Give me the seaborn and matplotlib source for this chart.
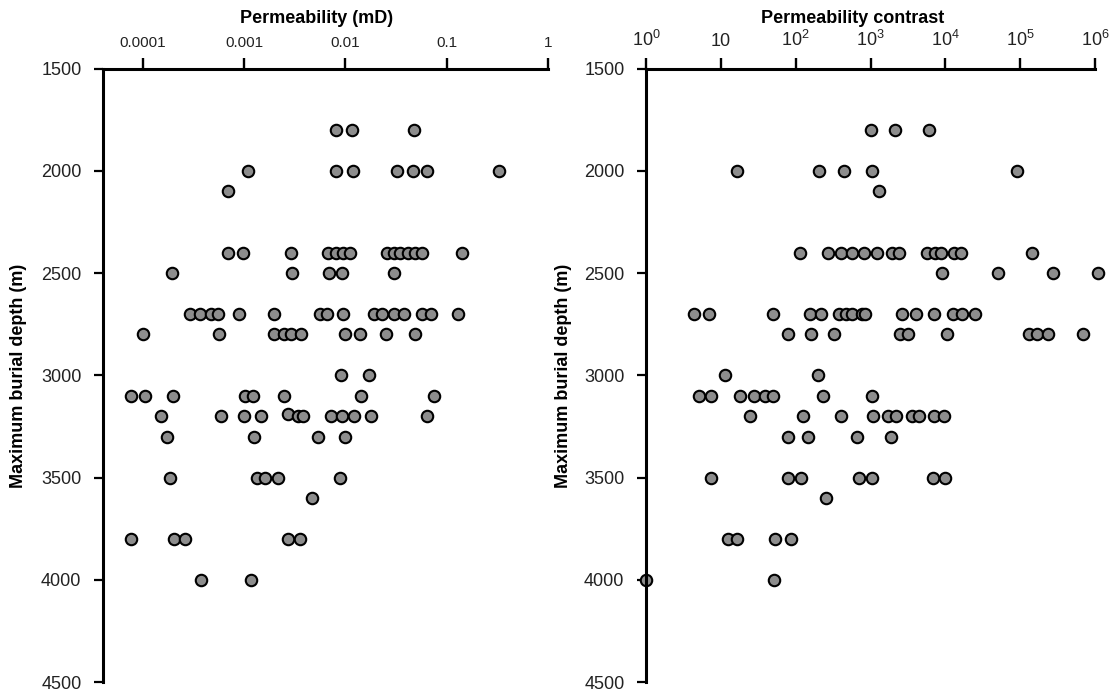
import matplotlib
matplotlib.use("Agg")
import matplotlib.pyplot as plt
import numpy as np
import pandas as pd
import seaborn as sns
from matplotlib.ticker import FixedLocator, FixedFormatter, NullLocator

# ---------------------------------------------------------------------------
# Data: permeability (mD) against maximum burial depth (m)
# ---------------------------------------------------------------------------
perm_depth_m = [
    1800, 1800, 1800,
    2000, 2000, 2000, 2000, 2000, 2000, 2000,
    2100,
    2400, 2400, 2400, 2400, 2400, 2400, 2400, 2400, 2400, 2400, 2400, 2400, 2400, 2400,
    2500, 2500, 2500, 2500, 2500,
    2700, 2700, 2700, 2700, 2700, 2700, 2700, 2700, 2700, 2700, 2700, 2700, 2700, 2700, 2700, 2700,
    2800, 2800, 2800, 2800, 2800, 2800, 2800, 2800, 2800, 2800,
    3000, 3000,
    3100, 3100, 3100, 3100, 3100, 3100, 3100, 3100,
    3200, 3200, 3200, 3200, 3190, 3200, 3200, 3200, 3200, 3200, 3200, 3200,
    3300, 3300, 3300, 3300,
    3500, 3500, 3500, 3500, 3500,
    3600,
    3800, 3800, 3800, 3800, 3800,
    4000, 4000,
]
perm_md = [
    0.0080, 0.0116, 0.048,
    0.0011, 0.0080, 0.0119, 0.032, 0.047, 0.064, 0.33,
    0.0007,
    0.0007, 0.00097, 0.0029, 0.0068, 0.0081, 0.0094, 0.0111, 0.0256, 0.0303, 0.0347, 0.0416, 0.0485, 0.0577, 0.141,
    0.000195, 0.0030, 0.0069, 0.0093, 0.030,
    0.00029, 0.00037, 0.000475, 0.00055, 0.00089, 0.00196, 0.0056, 0.0066, 0.0094, 0.0192, 0.0231, 0.0301, 0.0378, 0.0568, 0.0708, 0.129,
    0.000101, 0.00057, 0.00196, 0.00249, 0.00294, 0.00364, 0.0099, 0.0141, 0.0249, 0.0488,
    0.0091, 0.0173,
    0.000077, 0.000106, 0.000199, 0.00103, 0.00122, 0.00249, 0.0144, 0.0751,
    0.000151, 0.00059, 0.00099, 0.00146, 0.00273, 0.00338, 0.00381, 0.00715, 0.00925, 0.0123, 0.0180, 0.0641,
    0.000174, 0.00126, 0.00535, 0.0099,
    0.000185, 0.00135, 0.00162, 0.00216, 0.0089,
    0.00464,
    0.000076, 0.000205, 0.000263, 0.00273, 0.00358,
    0.00038, 0.00118,
]

# ---------------------------------------------------------------------------
# Data: permeability contrast against maximum burial depth (m)
# ---------------------------------------------------------------------------
contrast_depth_m = [
    1800, 1800, 1800,
    2000, 2000, 2000, 2000, 2000,
    2100,
    2400, 2400, 2400, 2400, 2400, 2400, 2400, 2400, 2400, 2400, 2400, 2400, 2400, 2400,
    2500, 2500, 2500, 2500,
    2700, 2700, 2700, 2700, 2700, 2700, 2700, 2700, 2700, 2700, 2700, 2700, 2700, 2700, 2700, 2700,
    2800, 2800, 2800, 2800, 2800, 2800, 2800, 2800, 2800, 2800,
    3000, 3000,
    3100, 3100, 3100, 3100, 3100, 3100, 3100, 3100,
    3200, 3200, 3200, 3200, 3200, 3200, 3200, 3200, 3200, 3200,
    3300, 3300, 3300, 3300,
    3500, 3500, 3500, 3500, 3500, 3500, 3500,
    3600,
    3800, 3800, 3800, 3800,
    4000, 4000,
]
contrast = [
    1000, 2110, 6000,
    16.7, 206, 444, 1050, 89800,
    1290,
    115, 269, 408, 573, 828, 1236, 1925, 2430, 5750, 7220, 8850, 12950, 16370, 143800,
    8950, 51000, 276000, 1.09e6,
    4.32, 6.85, 50.1, 155, 217, 381, 468, 573, 780, 847, 2640, 4060, 7070, 12790, 16870, 24900,
    77.8, 161, 324, 2485, 3175, 10640, 131000, 166000, 235000, 695000,
    11.2, 201,
    5.1, 7.45, 17.8, 27.9, 39.1, 50.1, 235, 1050,
    24.9, 126, 405, 1073, 1734, 2177, 3625, 4495, 7000, 9610,
    77.8, 144, 662, 1884,
    7.38, 79.4, 119, 698, 1041, 6920, 10000,
    258,
    12.3, 16.4, 53.7, 86.3,
    1.0, 51.2,
]

# Axis ticks and labels
depth_ticks = [1500, 2000, 2500, 3000, 3500, 4000, 4500]
perm_ticks = [0.0001, 0.001, 0.01, 0.1, 1]
perm_tick_labels = ["0.0001", "0.001", "0.01", "0.1", "1"]
contrast_ticks = [1, 10, 100, 1e3, 1e4, 1e5, 1e6]
contrast_tick_labels = [r"$10^{0}$", "10", r"$10^{2}$", r"$10^{3}$",
                        r"$10^{4}$", r"$10^{5}$", r"$10^{6}$"]

perm_df = pd.DataFrame({"depth": perm_depth_m, "value": perm_md})
contrast_df = pd.DataFrame({"depth": contrast_depth_m, "value": contrast})

# ---------------------------------------------------------------------------
# Style
# ---------------------------------------------------------------------------
sns.set_theme(style="ticks")
plt.rcParams["font.family"] = ["Liberation Sans", "DejaVu Sans"]
plt.rcParams["mathtext.fontset"] = "custom"
plt.rcParams["mathtext.rm"] = "Liberation Sans"
plt.rcParams["mathtext.it"] = "Liberation Sans:italic"
plt.rcParams["mathtext.bf"] = "Liberation Sans:bold"

W, H = 1116, 697
fig = plt.figure(figsize=(W / 100, H / 100), dpi=100)
top_px, bot_px = 68.5, 682.3
ax_h = (bot_px - top_px) / H
ax_y0 = 1 - bot_px / H
ax1 = fig.add_axes([103 / W, ax_y0, 445 / W, ax_h])
ax2 = fig.add_axes([646 / W, ax_y0, 449 / W, ax_h])

point_style = dict(s=68, color="#8d8d8d", edgecolor="black", linewidth=1.5,
                   clip_on=False, zorder=3, legend=False)

sns.scatterplot(data=perm_df, x="value", y="depth", ax=ax1, **point_style)
sns.scatterplot(data=contrast_df, x="value", y="depth", ax=ax2, **point_style)


def style_axis(ax, xlim, xticks, xlabels, xlabel, xlabel_x, ylabel_x, xtick_size):
    ax.set_xscale("log")
    ax.set_xlim(*xlim)
    ax.set_ylim(4500, 1500)
    ax.xaxis.set_major_locator(FixedLocator(xticks))
    ax.xaxis.set_major_formatter(FixedFormatter(xlabels))
    ax.xaxis.set_minor_locator(NullLocator())
    ax.set_yticks(depth_ticks)
    ax.set_yticklabels([str(t) for t in depth_ticks])
    ax.xaxis.tick_top()
    ax.xaxis.set_label_position("top")

    for side in ("bottom", "right"):
        ax.spines[side].set_visible(False)
    for side in ("top", "left"):
        ax.spines[side].set_linewidth(2.2)
        ax.spines[side].set_color("black")
        ax.spines[side].set_zorder(4)

    ax.tick_params(axis="x", which="major", top=True, bottom=False,
                   length=8, width=1.7, pad=5, labelsize=xtick_size,
                   color="black", labelcolor="#222222")
    ax.tick_params(axis="y", which="major", length=6.5, width=1.6, pad=9,
                   labelsize=13, color="black", labelcolor="#222222")

    ax.set_xlabel(xlabel, fontsize=13, fontweight="bold", color="black")
    ax.set_ylabel("Maximum burial depth (m)", fontsize=13,
                  fontweight="bold", color="black")
    ax.xaxis.set_label_coords(xlabel_x, 1.074)
    ax.yaxis.set_label_coords(ylabel_x, 0.5)
    ax.set_facecolor("white")


style_axis(ax1, (10 ** -4.392, 1), perm_ticks, perm_tick_labels,
           "Permeability (mD)", 0.479, -0.171, 11)
style_axis(ax2, (1, 1e6), contrast_ticks, contrast_tick_labels,
           "Permeability contrast", 0.46, -0.165, 13)

fig.savefig("out.png", dpi=100, facecolor="white")
